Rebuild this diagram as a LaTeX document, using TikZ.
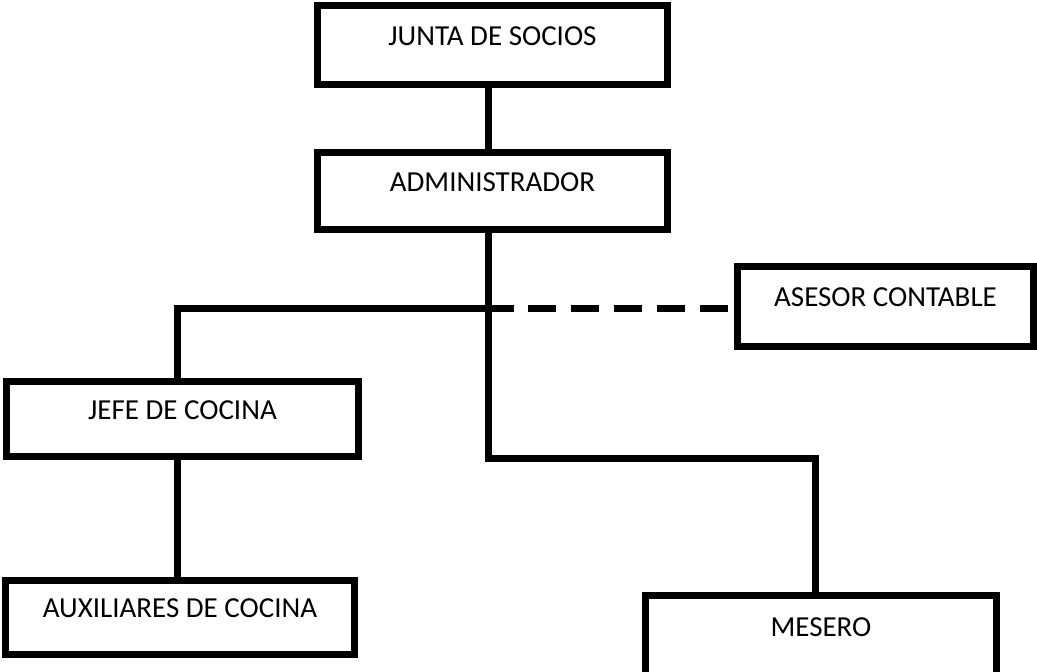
\documentclass[tikz,border=0pt]{standalone}
\usepackage{fontspec}
\setmainfont{Carlito}
\begin{document}
\begin{tikzpicture}[x=1pt,y=-1pt,
  orgbox/.style={draw=black, line width=7pt, rectangle, fill=white,
    inner sep=0pt, text height=15pt, text depth=15pt,
    font=\fontsize{29}{34}\selectfont},
  link/.style={draw=black, line width=7pt},
  dashlink/.style={draw=black, line width=7pt, dash pattern=on 28pt off 15pt, dash phase=29pt}]
\useasboundingbox (0,0) rectangle (1037,672);
\clip (0,0) rectangle (1037,672);
\fill[white] (0,0) rectangle (1037,672);

\node[orgbox, minimum width=350pt, minimum height=79pt] (junta) at (492.5,45) {JUNTA DE SOCIOS};
\node[orgbox, minimum width=350pt, minimum height=77pt] (admin) at (492.5,191) {ADMINISTRADOR};
\node[orgbox, minimum width=296pt, minimum height=80pt] (asesor) at (885.5,306.5) {ASESOR CONTABLE};
\node[orgbox, minimum width=352pt, minimum height=75pt] (jefe) at (182.5,419) {JEFE DE COCINA};
\node[orgbox, minimum width=349pt, minimum height=74pt] (aux) at (180,617.5) {AUXILIARES DE COCINA};
\node[orgbox, minimum width=351pt, minimum height=81pt] (mesero) at (821,636) {MESERO};

\coordinate (spine) at (488,308);
\coordinate (leftx) at (177,308);
\coordinate (dashstart) at (514,308);
\coordinate (mesx) at (815,458);
\coordinate (elbow) at (488,458);

\draw[link] (junta.south -| spine) -- (admin.north -| spine);
\draw[link] (admin.south -| spine) -- (elbow) -| (mesero.north -| mesx);
\draw[link] (jefe.north -| leftx) |- (dashstart);
\draw[dashlink] (dashstart) -- (asesor.west |- dashstart);
\draw[link] (jefe.south -| leftx) -- (aux.north -| leftx);
\end{tikzpicture}
\end{document}
